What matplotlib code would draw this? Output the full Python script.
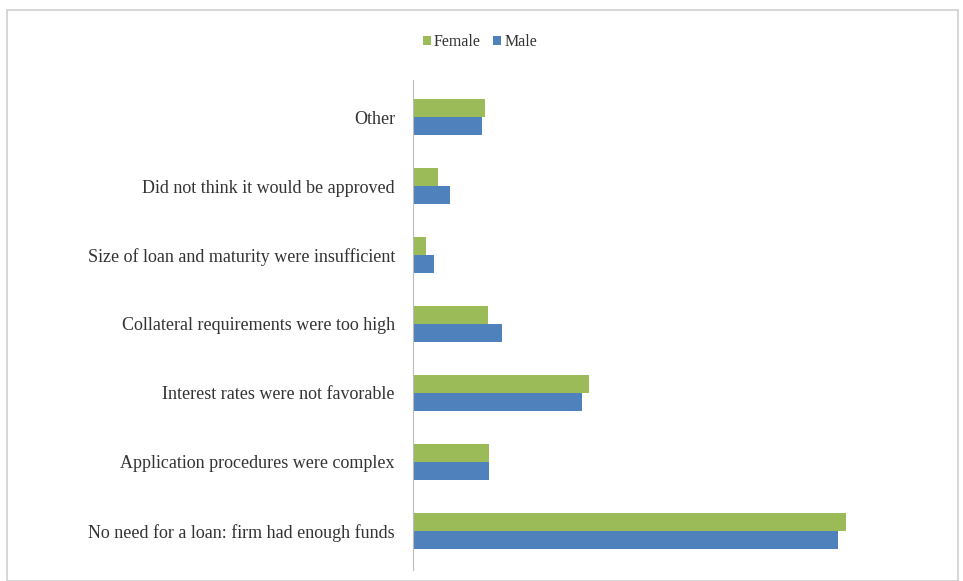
import matplotlib
matplotlib.use("Agg")
import matplotlib.pyplot as plt
from matplotlib.patches import Rectangle
import numpy as np

categories = [
    "No need for a loan: firm had enough funds",
    "Application procedures were complex",
    "Interest rates were not favorable",
    "Collateral requirements were too high",
    "Size of loan and maturity were insufficient",
    "Did not think it would be approved",
    "Other",
]
female = [61.9, 10.9, 25.1, 10.7, 1.9, 3.6, 10.3]
male = [60.7, 10.9, 24.1, 12.7, 3.0, 5.3, 9.9]

plt.rcParams['font.family'] = ['Liberation Serif', 'DejaVu Serif']

fig = plt.figure(figsize=(9.63, 5.81), dpi=100)
ax = fig.add_axes([413/963, 1-570/581, (945-413)/963, (570-80)/581])

y = np.arange(len(categories))
h = 0.26
ax.barh(y + h/2, female, height=h, color='#9BBB59', label='Female')
ax.barh(y - h/2, male, height=h, color='#4F81BD', label='Male')

ax.set_yticks(y)
ax.set_yticklabels(categories, fontsize=13, color='#333333')
ax.set_ylim(-0.57, 6.54)
ax.set_xlim(0, 76)
ax.set_xticks([])
ax.tick_params(axis='y', length=0, pad=13)
for s in ['top', 'right', 'bottom']:
    ax.spines[s].set_visible(False)
ax.spines['left'].set_color('#BBBBBB')

leg = fig.legend(loc='center', bbox_to_anchor=(480/963, 1-42/581), ncol=2,
                 frameon=False, fontsize=11.5, handlelength=0.5, handleheight=0.5,
                 handletextpad=0.2, columnspacing=0.8)
for t in leg.get_texts():
    t.set_color('#333333')

fig.patches.append(Rectangle((7/963, 0), (958-7)/963, 1-10/581, transform=fig.transFigure,
                             fill=False, edgecolor='#D0D0D0', linewidth=1.2))

fig.savefig('out.png', dpi=100)
